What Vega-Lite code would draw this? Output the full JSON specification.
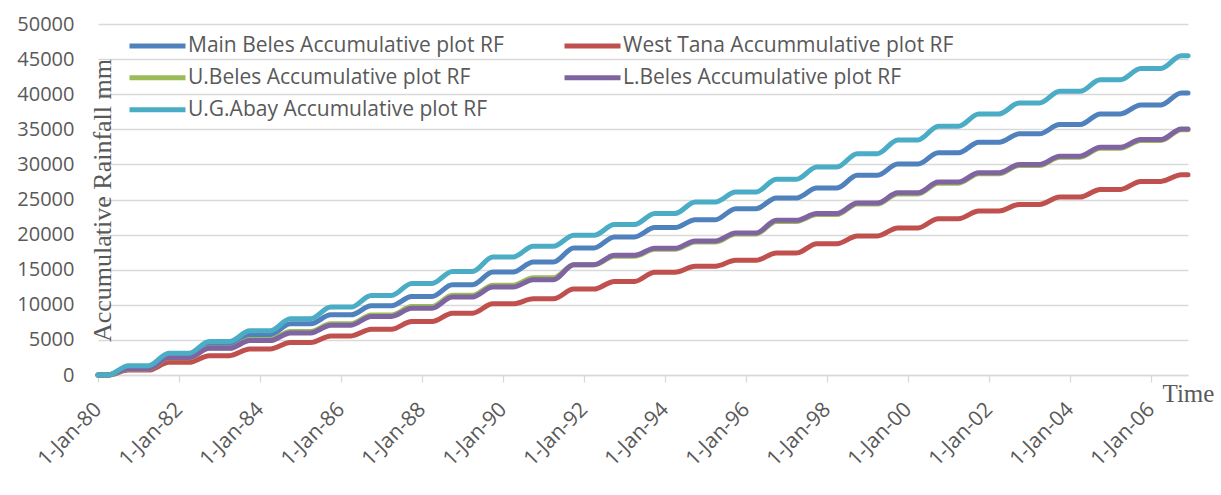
{
  "$schema": "https://vega.github.io/schema/vega-lite/v6.json",
  "width": 1090,
  "height": 351,
  "autosize": {"type": "none"},
  "padding": {"left": 98, "top": 24, "right": 33, "bottom": 120},
  "background": "white",
  "config": {"view": {"stroke": null}, "font": "Open Sans"},
  "data": {"values": [
{"t":"1980-01-01","s":"MB","v":0},
{"t":"1980-04-01","s":"MB","v":0},{"t":"1980-10-01","s":"MB","v":1050},
{"t":"1981-04-01","s":"MB","v":1050},{"t":"1981-10-01","s":"MB","v":2710},
{"t":"1982-04-01","s":"MB","v":2710},{"t":"1982-10-01","s":"MB","v":4190},
{"t":"1983-04-01","s":"MB","v":4190},{"t":"1983-10-01","s":"MB","v":5710},
{"t":"1984-04-01","s":"MB","v":5710},{"t":"1984-10-01","s":"MB","v":7290},
{"t":"1985-04-01","s":"MB","v":7290},{"t":"1985-10-01","s":"MB","v":8570},
{"t":"1986-04-01","s":"MB","v":8570},{"t":"1986-10-01","s":"MB","v":9860},
{"t":"1987-04-01","s":"MB","v":9860},{"t":"1987-10-01","s":"MB","v":11190},
{"t":"1988-04-01","s":"MB","v":11190},{"t":"1988-10-01","s":"MB","v":12860},
{"t":"1989-04-01","s":"MB","v":12860},{"t":"1989-10-01","s":"MB","v":14670},
{"t":"1990-04-01","s":"MB","v":14670},{"t":"1990-10-01","s":"MB","v":16100},
{"t":"1991-04-01","s":"MB","v":16100},{"t":"1991-10-01","s":"MB","v":18100},
{"t":"1992-04-01","s":"MB","v":18100},{"t":"1992-10-01","s":"MB","v":19670},
{"t":"1993-04-01","s":"MB","v":19670},{"t":"1993-10-01","s":"MB","v":21000},
{"t":"1994-04-01","s":"MB","v":21000},{"t":"1994-10-01","s":"MB","v":22130},
{"t":"1995-04-01","s":"MB","v":22130},{"t":"1995-10-01","s":"MB","v":23700},
{"t":"1996-04-01","s":"MB","v":23700},{"t":"1996-10-01","s":"MB","v":25220},
{"t":"1997-04-01","s":"MB","v":25220},{"t":"1997-10-01","s":"MB","v":26640},
{"t":"1998-04-01","s":"MB","v":26640},{"t":"1998-10-01","s":"MB","v":28450},
{"t":"1999-04-01","s":"MB","v":28450},{"t":"1999-10-01","s":"MB","v":30050},
{"t":"2000-04-01","s":"MB","v":30050},{"t":"2000-10-01","s":"MB","v":31650},
{"t":"2001-04-01","s":"MB","v":31650},{"t":"2001-10-01","s":"MB","v":33160},
{"t":"2002-04-01","s":"MB","v":33160},{"t":"2002-10-01","s":"MB","v":34350},
{"t":"2003-04-01","s":"MB","v":34350},{"t":"2003-10-01","s":"MB","v":35670},
{"t":"2004-04-01","s":"MB","v":35670},{"t":"2004-10-01","s":"MB","v":37190},
{"t":"2005-04-01","s":"MB","v":37190},{"t":"2005-10-01","s":"MB","v":38470},
{"t":"2006-04-01","s":"MB","v":38470},{"t":"2006-10-01","s":"MB","v":40170},
{"t":"2006-12-01","s":"MB","v":40170},

{"t":"1980-01-01","s":"WT","v":0},
{"t":"1980-04-01","s":"WT","v":0},{"t":"1980-10-01","s":"WT","v":700},
{"t":"1981-04-01","s":"WT","v":700},{"t":"1981-10-01","s":"WT","v":1800},
{"t":"1982-04-01","s":"WT","v":1800},{"t":"1982-10-01","s":"WT","v":2760},
{"t":"1983-04-01","s":"WT","v":2760},{"t":"1983-10-01","s":"WT","v":3710},
{"t":"1984-04-01","s":"WT","v":3710},{"t":"1984-10-01","s":"WT","v":4620},
{"t":"1985-04-01","s":"WT","v":4620},{"t":"1985-10-01","s":"WT","v":5570},
{"t":"1986-04-01","s":"WT","v":5570},{"t":"1986-10-01","s":"WT","v":6520},
{"t":"1987-04-01","s":"WT","v":6520},{"t":"1987-10-01","s":"WT","v":7620},
{"t":"1988-04-01","s":"WT","v":7620},{"t":"1988-10-01","s":"WT","v":8810},
{"t":"1989-04-01","s":"WT","v":8810},{"t":"1989-10-01","s":"WT","v":10140},
{"t":"1990-04-01","s":"WT","v":10140},{"t":"1990-10-01","s":"WT","v":10860},
{"t":"1991-04-01","s":"WT","v":10860},{"t":"1991-10-01","s":"WT","v":12240},
{"t":"1992-04-01","s":"WT","v":12240},{"t":"1992-10-01","s":"WT","v":13330},
{"t":"1993-04-01","s":"WT","v":13330},{"t":"1993-10-01","s":"WT","v":14650},
{"t":"1994-04-01","s":"WT","v":14650},{"t":"1994-10-01","s":"WT","v":15500},
{"t":"1995-04-01","s":"WT","v":15500},{"t":"1995-10-01","s":"WT","v":16340},
{"t":"1996-04-01","s":"WT","v":16340},{"t":"1996-10-01","s":"WT","v":17380},
{"t":"1997-04-01","s":"WT","v":17380},{"t":"1997-10-01","s":"WT","v":18710},
{"t":"1998-04-01","s":"WT","v":18710},{"t":"1998-10-01","s":"WT","v":19800},
{"t":"1999-04-01","s":"WT","v":19800},{"t":"1999-10-01","s":"WT","v":20950},
{"t":"2000-04-01","s":"WT","v":20950},{"t":"2000-10-01","s":"WT","v":22270},
{"t":"2001-04-01","s":"WT","v":22270},{"t":"2001-10-01","s":"WT","v":23360},
{"t":"2002-04-01","s":"WT","v":23360},{"t":"2002-10-01","s":"WT","v":24300},
{"t":"2003-04-01","s":"WT","v":24300},{"t":"2003-10-01","s":"WT","v":25350},
{"t":"2004-04-01","s":"WT","v":25350},{"t":"2004-10-01","s":"WT","v":26440},
{"t":"2005-04-01","s":"WT","v":26440},{"t":"2005-10-01","s":"WT","v":27580},
{"t":"2006-04-01","s":"WT","v":27580},{"t":"2006-10-01","s":"WT","v":28520},
{"t":"2006-12-01","s":"WT","v":28520},

{"t":"1980-01-01","s":"UB","v":0},
{"t":"1980-04-01","s":"UB","v":0},{"t":"1980-10-01","s":"UB","v":850},
{"t":"1981-04-01","s":"UB","v":850},{"t":"1981-10-01","s":"UB","v":2450},
{"t":"1982-04-01","s":"UB","v":2450},{"t":"1982-10-01","s":"UB","v":3850},
{"t":"1983-04-01","s":"UB","v":3850},{"t":"1983-10-01","s":"UB","v":5050},
{"t":"1984-04-01","s":"UB","v":5050},{"t":"1984-10-01","s":"UB","v":6200},
{"t":"1985-04-01","s":"UB","v":6200},{"t":"1985-10-01","s":"UB","v":7300},
{"t":"1986-04-01","s":"UB","v":7300},{"t":"1986-10-01","s":"UB","v":8550},
{"t":"1987-04-01","s":"UB","v":8550},{"t":"1987-10-01","s":"UB","v":9750},
{"t":"1988-04-01","s":"UB","v":9750},{"t":"1988-10-01","s":"UB","v":11350},
{"t":"1989-04-01","s":"UB","v":11350},{"t":"1989-10-01","s":"UB","v":12800},
{"t":"1990-04-01","s":"UB","v":12800},{"t":"1990-10-01","s":"UB","v":13850},
{"t":"1991-04-01","s":"UB","v":13850},{"t":"1991-10-01","s":"UB","v":15700},
{"t":"1992-04-01","s":"UB","v":15700},{"t":"1992-10-01","s":"UB","v":16900},
{"t":"1993-04-01","s":"UB","v":16900},{"t":"1993-10-01","s":"UB","v":17900},
{"t":"1994-04-01","s":"UB","v":17900},{"t":"1994-10-01","s":"UB","v":18950},
{"t":"1995-04-01","s":"UB","v":18950},{"t":"1995-10-01","s":"UB","v":20080},
{"t":"1996-04-01","s":"UB","v":20080},{"t":"1996-10-01","s":"UB","v":21880},
{"t":"1997-04-01","s":"UB","v":21880},{"t":"1997-10-01","s":"UB","v":22850},
{"t":"1998-04-01","s":"UB","v":22850},{"t":"1998-10-01","s":"UB","v":24350},
{"t":"1999-04-01","s":"UB","v":24350},{"t":"1999-10-01","s":"UB","v":25800},
{"t":"2000-04-01","s":"UB","v":25800},{"t":"2000-10-01","s":"UB","v":27330},
{"t":"2001-04-01","s":"UB","v":27330},{"t":"2001-10-01","s":"UB","v":28660},
{"t":"2002-04-01","s":"UB","v":28660},{"t":"2002-10-01","s":"UB","v":29850},
{"t":"2003-04-01","s":"UB","v":29850},{"t":"2003-10-01","s":"UB","v":31030},
{"t":"2004-04-01","s":"UB","v":31030},{"t":"2004-10-01","s":"UB","v":32300},
{"t":"2005-04-01","s":"UB","v":32300},{"t":"2005-10-01","s":"UB","v":33400},
{"t":"2006-04-01","s":"UB","v":33400},{"t":"2006-10-01","s":"UB","v":34950},
{"t":"2006-12-01","s":"UB","v":34950},

{"t":"1980-01-01","s":"LB","v":0},
{"t":"1980-04-01","s":"LB","v":0},{"t":"1980-10-01","s":"LB","v":900},
{"t":"1981-04-01","s":"LB","v":900},{"t":"1981-10-01","s":"LB","v":2500},
{"t":"1982-04-01","s":"LB","v":2500},{"t":"1982-10-01","s":"LB","v":3800},
{"t":"1983-04-01","s":"LB","v":3800},{"t":"1983-10-01","s":"LB","v":4900},
{"t":"1984-04-01","s":"LB","v":4900},{"t":"1984-10-01","s":"LB","v":6000},
{"t":"1985-04-01","s":"LB","v":6000},{"t":"1985-10-01","s":"LB","v":7100},
{"t":"1986-04-01","s":"LB","v":7100},{"t":"1986-10-01","s":"LB","v":8350},
{"t":"1987-04-01","s":"LB","v":8350},{"t":"1987-10-01","s":"LB","v":9500},
{"t":"1988-04-01","s":"LB","v":9500},{"t":"1988-10-01","s":"LB","v":11100},
{"t":"1989-04-01","s":"LB","v":11100},{"t":"1989-10-01","s":"LB","v":12520},
{"t":"1990-04-01","s":"LB","v":12520},{"t":"1990-10-01","s":"LB","v":13570},
{"t":"1991-04-01","s":"LB","v":13570},{"t":"1991-10-01","s":"LB","v":15710},
{"t":"1992-04-01","s":"LB","v":15710},{"t":"1992-10-01","s":"LB","v":17050},
{"t":"1993-04-01","s":"LB","v":17050},{"t":"1993-10-01","s":"LB","v":18050},
{"t":"1994-04-01","s":"LB","v":18050},{"t":"1994-10-01","s":"LB","v":19100},
{"t":"1995-04-01","s":"LB","v":19100},{"t":"1995-10-01","s":"LB","v":20230},
{"t":"1996-04-01","s":"LB","v":20230},{"t":"1996-10-01","s":"LB","v":22040},
{"t":"1997-04-01","s":"LB","v":22040},{"t":"1997-10-01","s":"LB","v":23000},
{"t":"1998-04-01","s":"LB","v":23000},{"t":"1998-10-01","s":"LB","v":24510},
{"t":"1999-04-01","s":"LB","v":24510},{"t":"1999-10-01","s":"LB","v":25950},
{"t":"2000-04-01","s":"LB","v":25950},{"t":"2000-10-01","s":"LB","v":27480},
{"t":"2001-04-01","s":"LB","v":27480},{"t":"2001-10-01","s":"LB","v":28810},
{"t":"2002-04-01","s":"LB","v":28810},{"t":"2002-10-01","s":"LB","v":29990},
{"t":"2003-04-01","s":"LB","v":29990},{"t":"2003-10-01","s":"LB","v":31170},
{"t":"2004-04-01","s":"LB","v":31170},{"t":"2004-10-01","s":"LB","v":32450},
{"t":"2005-04-01","s":"LB","v":32450},{"t":"2005-10-01","s":"LB","v":33540},
{"t":"2006-04-01","s":"LB","v":33540},{"t":"2006-10-01","s":"LB","v":35060},
{"t":"2006-12-01","s":"LB","v":35060},

{"t":"1980-01-01","s":"UGA","v":0},
{"t":"1980-04-01","s":"UGA","v":0},{"t":"1980-10-01","s":"UGA","v":1330},
{"t":"1981-04-01","s":"UGA","v":1330},{"t":"1981-10-01","s":"UGA","v":3100},
{"t":"1982-04-01","s":"UGA","v":3100},{"t":"1982-10-01","s":"UGA","v":4760},
{"t":"1983-04-01","s":"UGA","v":4760},{"t":"1983-10-01","s":"UGA","v":6290},
{"t":"1984-04-01","s":"UGA","v":6290},{"t":"1984-10-01","s":"UGA","v":8000},
{"t":"1985-04-01","s":"UGA","v":8000},{"t":"1985-10-01","s":"UGA","v":9670},
{"t":"1986-04-01","s":"UGA","v":9670},{"t":"1986-10-01","s":"UGA","v":11330},
{"t":"1987-04-01","s":"UGA","v":11330},{"t":"1987-10-01","s":"UGA","v":13050},
{"t":"1988-04-01","s":"UGA","v":13050},{"t":"1988-10-01","s":"UGA","v":14760},
{"t":"1989-04-01","s":"UGA","v":14760},{"t":"1989-10-01","s":"UGA","v":16810},
{"t":"1990-04-01","s":"UGA","v":16810},{"t":"1990-10-01","s":"UGA","v":18330},
{"t":"1991-04-01","s":"UGA","v":18330},{"t":"1991-10-01","s":"UGA","v":19900},
{"t":"1992-04-01","s":"UGA","v":19900},{"t":"1992-10-01","s":"UGA","v":21430},
{"t":"1993-04-01","s":"UGA","v":21430},{"t":"1993-10-01","s":"UGA","v":23000},
{"t":"1994-04-01","s":"UGA","v":23000},{"t":"1994-10-01","s":"UGA","v":24650},
{"t":"1995-04-01","s":"UGA","v":24650},{"t":"1995-10-01","s":"UGA","v":26070},
{"t":"1996-04-01","s":"UGA","v":26070},{"t":"1996-10-01","s":"UGA","v":27880},
{"t":"1997-04-01","s":"UGA","v":27880},{"t":"1997-10-01","s":"UGA","v":29630},
{"t":"1998-04-01","s":"UGA","v":29630},{"t":"1998-10-01","s":"UGA","v":31530},
{"t":"1999-04-01","s":"UGA","v":31530},{"t":"1999-10-01","s":"UGA","v":33480},
{"t":"2000-04-01","s":"UGA","v":33480},{"t":"2000-10-01","s":"UGA","v":35440},
{"t":"2001-04-01","s":"UGA","v":35440},{"t":"2001-10-01","s":"UGA","v":37190},
{"t":"2002-04-01","s":"UGA","v":37190},{"t":"2002-10-01","s":"UGA","v":38750},
{"t":"2003-04-01","s":"UGA","v":38750},{"t":"2003-10-01","s":"UGA","v":40410},
{"t":"2004-04-01","s":"UGA","v":40410},{"t":"2004-10-01","s":"UGA","v":42060},
{"t":"2005-04-01","s":"UGA","v":42060},{"t":"2005-10-01","s":"UGA","v":43670},
{"t":"2006-04-01","s":"UGA","v":43670},{"t":"2006-10-01","s":"UGA","v":45470},
{"t":"2006-12-01","s":"UGA","v":45470}
  ]},
  "mark": {"type": "line", "interpolate": "monotone", "strokeWidth": 5, "strokeCap": "round", "strokeJoin": "round"},
  "encoding": {
    "x": {
      "field": "t", "type": "temporal",
      "scale": {"type": "utc", "domain": [{"year": 1980, "month": 1, "date": 1, "utc": true}, {"year": 2006, "month": 12, "date": 1, "utc": true}]},
      "axis": {
        "title": "Time", "titleFont": "Liberation Serif", "titleFontSize": 25, "titleFontWeight": "normal", "titleColor": "#595959",
        "titleX": 1064, "titleY": 26, "titleAlign": "left", "titleBaseline": "alphabetic", "titleAngle": 0,
        "values": [
          {"year": 1980, "month": 1, "date": 1, "utc": true}, {"year": 1982, "month": 1, "date": 1, "utc": true},
          {"year": 1984, "month": 1, "date": 1, "utc": true}, {"year": 1986, "month": 1, "date": 1, "utc": true},
          {"year": 1988, "month": 1, "date": 1, "utc": true}, {"year": 1990, "month": 1, "date": 1, "utc": true},
          {"year": 1992, "month": 1, "date": 1, "utc": true}, {"year": 1994, "month": 1, "date": 1, "utc": true},
          {"year": 1996, "month": 1, "date": 1, "utc": true}, {"year": 1998, "month": 1, "date": 1, "utc": true},
          {"year": 2000, "month": 1, "date": 1, "utc": true}, {"year": 2002, "month": 1, "date": 1, "utc": true},
          {"year": 2004, "month": 1, "date": 1, "utc": true}, {"year": 2006, "month": 1, "date": 1, "utc": true}
        ],
        "labelExpr": "utcFormat(datum.value, '%-d-%b-%y')",
        "labelAngle": -45, "labelAlign": "right", "labelBaseline": "middle", "labelPadding": 24,
        "labelFont": "Open Sans", "labelFontSize": 21, "labelColor": "#595959",
        "labelOverlap": false, "labelFlush": false, "labelBound": false,
        "tickColor": "#d9d9d9", "tickSize": 7, "tickWidth": 1.3, "domainColor": "#d9d9d9", "domainWidth": 1.3, "grid": false
      }
    },
    "y": {
      "field": "v", "type": "quantitative",
      "scale": {"domain": [0, 50000]},
      "axis": {
        "title": "Accumulative Rainfall mm", "titleFont": "Liberation Serif", "titleFontSize": 26, "titleFontWeight": "normal", "titleColor": "#595959",
        "titleAngle": -90, "titleX": 12, "titleY": 176, "titleAlign": "center", "titleBaseline": "alphabetic",
        "values": [0, 5000, 10000, 15000, 20000, 25000, 30000, 35000, 40000, 45000, 50000],
        "format": "d", "labelFont": "Open Sans", "labelFontSize": 20, "labelColor": "#595959", "labelPadding": 24,
        "ticks": false, "domain": false, "grid": true, "gridColor": "#d9d9d9", "gridWidth": 1.3
      }
    },
    "color": {
      "field": "s", "type": "nominal",
      "scale": {"domain": ["MB", "WT", "UB", "LB", "UGA"], "range": ["#4F81BD", "#C0504D", "#9BBB59", "#8064A2", "#4BACC6"]},
      "legend": {
        "orient": "none", "legendX": 29, "legendY": 6, "columns": 2, "direction": "horizontal", "title": null,
        "symbolType": "stroke", "symbolSize": 3136, "symbolStrokeWidth": 5,
        "labelFont": "Open Sans", "labelFontSize": 21, "labelColor": "#595959", "labelOffset": 0, "labelLimit": 600,
        "columnPadding": 58, "rowPadding": 0, "clipHeight": 31.5,
        "labelExpr": "datum.label == 'MB' ? 'Main Beles Accumulative plot RF' : datum.label == 'WT' ? 'West Tana Accummulative plot RF' : datum.label == 'UB' ? 'U.Beles Accumulative plot RF' : datum.label == 'LB' ? 'L.Beles Accumulative plot RF' : 'U.G.Abay Accumulative plot RF'"
      }
    }
  }
}
